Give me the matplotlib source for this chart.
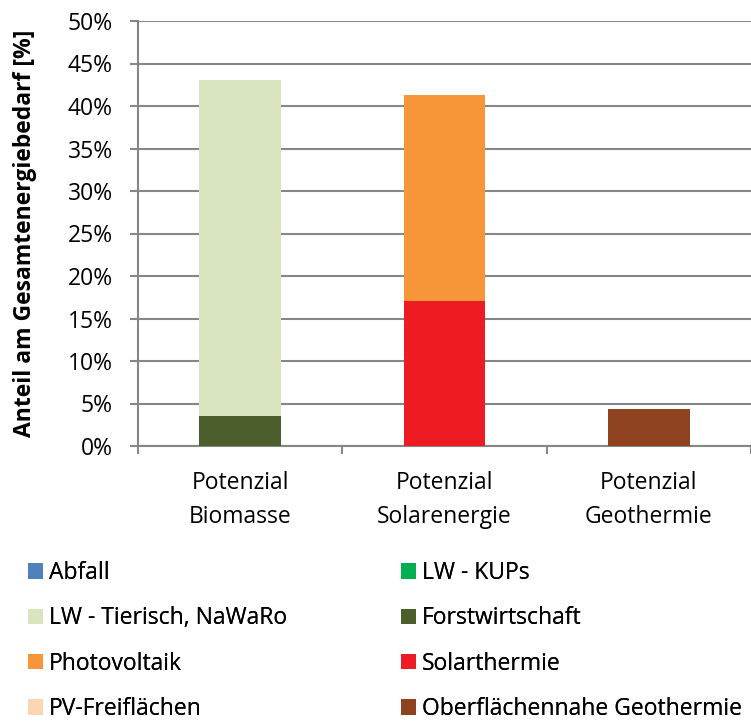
"""Stacked bar chart: share of renewable potentials in total energy demand."""

import matplotlib.pyplot as plt
import numpy as np
from matplotlib.patches import Patch
from matplotlib.ticker import FixedLocator, PercentFormatter

categories = ["Potenzial\nBiomasse", "Potenzial\nSolarenergie", "Potenzial\nGeothermie"]

# legend order (row-major, two columns as in the original)
series_names = [
    "Abfall",
    "LW - KUPs",
    "LW - Tierisch, NaWaRo",
    "Forstwirtschaft",
    "Photovoltaik",
    "Solarthermie",
    "PV-Freiflächen",
    "Oberflächennahe Geothermie",
]
series_colors = [
    "#4F81BD",
    "#00B050",
    "#D7E4BD",
    "#4B5E2B",
    "#F79639",
    "#ED1C24",
    "#FCD5B5",
    "#8F4220",
]
# values in % per category (Biomasse, Solarenergie, Geothermie)
series_values = [
    [0.0, 0.0, 0.0],
    [0.0, 0.0, 0.0],
    [39.55, 0.0, 0.0],
    [3.5, 0.0, 0.0],
    [0.0, 24.2, 0.0],
    [0.0, 17.1, 0.0],
    [0.0, 0.0, 0.0],
    [0.0, 0.0, 4.3],
]

y_ticks = [0, 5, 10, 15, 20, 25, 30, 35, 40, 45, 50]

GRAY = "#868686"
FS = 16.5

plt.rcParams["font.family"] = ["Open Sans", "DejaVu Sans"]

fig = plt.figure(figsize=(7.51, 7.24), dpi=100)
ax = fig.add_axes([138 / 751, 1 - 446 / 724, 1 - 138 / 751, (446 - 21) / 724])

x = np.arange(len(categories))
bottom = np.zeros(len(categories))
# stacked in reverse legend order, so Forstwirtschaft/Solarthermie sit at the bottom
for name, color, vals in reversed(list(zip(series_names, series_colors, series_values))):
    vals = np.array(vals)
    ax.bar(x, vals, 0.4, bottom=bottom, color=color, zorder=3, linewidth=0)
    bottom += vals

ax.set_xlim(-0.5, 2.5)
ax.set_ylim(0, 50)
ax.yaxis.set_major_locator(FixedLocator(y_ticks))
ax.yaxis.set_major_formatter(PercentFormatter(decimals=0))
ax.grid(axis="y", color=GRAY, linewidth=1.5, zorder=0)

ax.set_xticks(x)
ax.set_xticklabels(categories, fontsize=FS, linespacing=1.58)
ax.set_xticks([-0.5, 0.5, 1.5, 2.5], minor=True)
ax.tick_params(axis="x", which="major", length=0, pad=18)
ax.tick_params(axis="x", which="minor", length=6, width=1.5, color=GRAY)
ax.tick_params(axis="y", length=6, width=1.5, color=GRAY, labelsize=FS, pad=12)

for side in ("top", "right"):
    ax.spines[side].set_visible(False)
for side in ("left", "bottom"):
    ax.spines[side].set_color(GRAY)
    ax.spines[side].set_linewidth(1.5)

ax.set_ylabel("Anteil am Gesamtenergiebedarf [%]", fontsize=FS, fontweight="bold")
ax.yaxis.set_label_coords(-0.164, 0.5)

# one legend per column, filled row by row
handles = [Patch(facecolor=c, edgecolor="none") for c in series_colors]
legend_kw = dict(
    loc="upper left",
    frameon=False,
    fontsize=FS,
    handlelength=0.65,
    handleheight=0.65,
    handletextpad=0.26,
    labelspacing=0.93,
    borderaxespad=0.0,
)
for col, x0 in enumerate([18.8, 391.8]):
    idx = range(col, len(series_names), 2)
    leg = fig.legend(
        [handles[i] for i in idx],
        [series_names[i] for i in idx],
        bbox_to_anchor=(x0 / 751, 1 - 552 / 724),
        **legend_kw,
    )
    fig.add_artist(leg)

fig.savefig("out.png", dpi=100)
